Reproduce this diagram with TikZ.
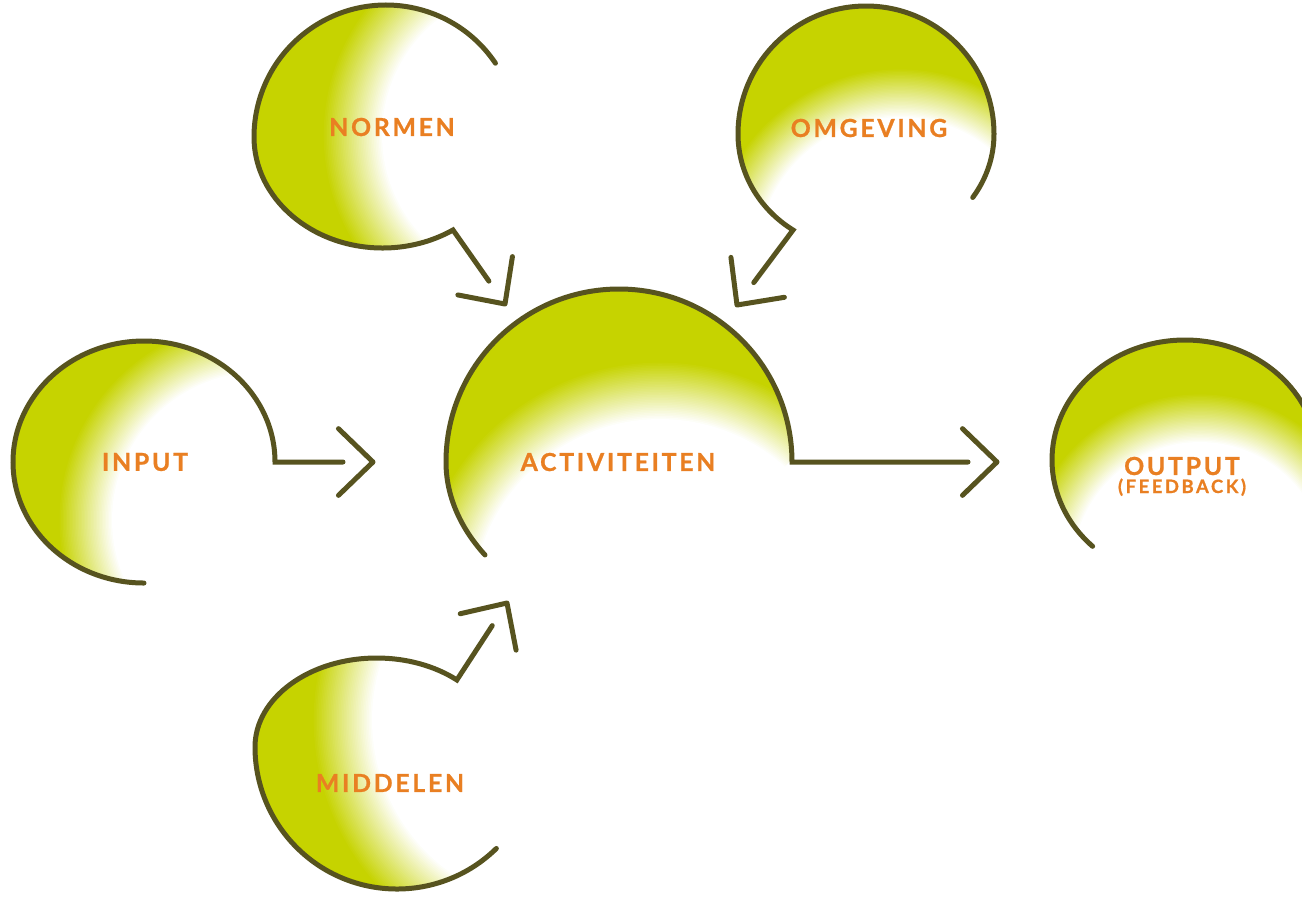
\documentclass[tikz,border=0pt]{standalone}
\usepackage{fontspec}
\usepackage{tikz}
\usetikzlibrary{calc}
\newfontfamily\labfont{Lato}[LetterSpace=11.0,BoldFeatures={FakeBold=0.8}]
\newfontfamily\sublabfont{Lato}[LetterSpace=14.0,BoldFeatures={FakeBold=0.8}]
\definecolor{dOlive}{HTML}{57531F}
\definecolor{lGreen}{HTML}{C6D300}
\definecolor{tOrange}{HTML}{E97F22}
% gradient fill: #1 centre, #2 radius of pure white, #3 radius where pure green starts
\newcommand\gradfill[3]{%
  \fill[lGreen] #1 circle (420);
  \foreach \i in {0,...,36}{%
    \pgfmathsetmacro\rr{#3-(#3-#2)*\i/36}%
    \pgfmathsetmacro\pp{100-100*\i/36}%
    \fill[lGreen!\pp!white] #1 circle (\rr);}%
}
\newcommand\mychevron[2]{\draw[chevline] ($(#1)!24pt!44:(#2)$) -- (#1) -- ($(#1)!24pt!-44:(#2)$);}
\begin{document}
\begin{tikzpicture}[x=0.5pt,y=-0.5pt,
  outline/.style={draw=dOlive,line width=2.5pt,line cap=round,line join=miter},
  chevline/.style={draw=dOlive,line width=2.5pt,line cap=round,line join=round},
  seam/.style={draw=white,line width=2pt},
  lbl/.style={text=tOrange,inner sep=0pt,font=\labfont\bfseries\fontsize{12.4}{14}\selectfont},
  sublbl/.style={text=tOrange,inner sep=0pt,font=\sublabfont\bfseries\fontsize{9.2}{11}\selectfont}]
\useasboundingbox (0,0) rectangle (1302,902);
\fill[white] (0,0) rectangle (1302,902);

% start points, junctions (ends of the outlines), chevron tips, gradient centres
\coordinate (sN) at ($(386,137)+(-34:132)$);
\coordinate (jN) at ($(382.7,137)+(56.9:128.7 and 111)$);   \coordinate (tN) at (505,304); \coordinate (wN) at (530,135);
\coordinate (sO) at ($(866,134)+(33.5:128 and 115)$);
\coordinate (jO) at ($(860.4,134)+(123.4:122.4 and 115)$);  \coordinate (tO) at (737,305); \coordinate (wO) at (900,260);
\coordinate (sA) at ($(708.8,462)+(148.4:262.8 and 177.4)$);
\coordinate (jA) at (792,462);                               \coordinate (tA) at (997,462); \coordinate (wA) at (660,607);
\coordinate (sI) at (144,583);
\coordinate (jI) at (275,462);                               \coordinate (tI) at (373,462); \coordinate (wI) at (260,520);
\coordinate (sU) at ($(1185,460)+(134:133 and 120)$);
\coordinate (eU) at ($(1185,460)+(350:133 and 120)$);        \coordinate (wU) at (1200,570);
\coordinate (sM) at ($(397,747)+(45.6:142)$);
\coordinate (jM) at ($(376.8,747)+(311.1:121.8 and 89)$);   \coordinate (tM) at (507,603); \coordinate (wM) at (560,720);

% ---------- NORMEN ----------
\begin{scope}
\clip (sN) arc[start angle=-34,end angle=-180,radius=132]
      arc[start angle=180,end angle=56.9,x radius=128.7,y radius=111] -- (wN) -- cycle;
\gradfill{(wN)}{148}{208}
\end{scope}
\draw[seam] (jN) -- (wN) -- (sN);
\draw[outline] (sN) arc[start angle=-34,end angle=-180,radius=132]
      arc[start angle=180,end angle=56.9,x radius=128.7,y radius=111] -- ($(tN)!14pt!(jN)$);
\mychevron{tN}{jN}

% ---------- OMGEVING ----------
\begin{scope}
\clip (sO) arc[start angle=33.5,end angle=0,x radius=128,y radius=115]
      arc[start angle=0,end angle=-180,radius=128]
      arc[start angle=180,end angle=123.4,x radius=122.4,y radius=115] -- (wO) -- cycle;
\gradfill{(wO)}{143}{192}
\end{scope}
\draw[seam] (jO) -- (wO) -- (sO);
\draw[outline] (sO) arc[start angle=33.5,end angle=0,x radius=128,y radius=115]
      arc[start angle=0,end angle=-180,radius=128]
      arc[start angle=180,end angle=123.4,x radius=122.4,y radius=115] -- ($(tO)!14pt!(jO)$);
\mychevron{tO}{jO}

% ---------- ACTIVITEITEN ----------
\begin{scope}
\clip (sA) arc[start angle=148.4,end angle=180,x radius=262.8,y radius=177.4]
      arc[start angle=180,end angle=360,radius=173] -- (wA) -- cycle;
\gradfill{(wA)}{188}{246}
\end{scope}
\draw[seam] (jA) -- (wA) -- (sA);
\draw[outline] (sA) arc[start angle=148.4,end angle=180,x radius=262.8,y radius=177.4]
      arc[start angle=180,end angle=360,radius=173] -- ($(tA)!14.5pt!(jA)$);
\mychevron{tA}{jA}

% ---------- INPUT ----------
\begin{scope}
\clip (sI) arc[start angle=90,end angle=360,x radius=131,y radius=121] -- (wI) -- cycle;
\gradfill{(wI)}{148}{202}
\end{scope}
\draw[seam] (jI) -- (wI) -- (sI);
\draw[outline] (sI) arc[start angle=90,end angle=360,x radius=131,y radius=121] -- ($(tI)!15pt!(jI)$);
\mychevron{tI}{jI}

% ---------- OUTPUT ----------
\begin{scope}
\clip (sU) arc[start angle=134,end angle=350,x radius=133,y radius=120]
      -- (1340,600) -- (wU) -- cycle;
\gradfill{(wU)}{128}{177}
\end{scope}
\draw[seam] (eU) -- (1340,600) -- (wU) -- (sU);
\draw[outline] (sU) arc[start angle=134,end angle=350,x radius=133,y radius=120];

% ---------- MIDDELEN ----------
\begin{scope}
\clip (sM) arc[start angle=45.6,end angle=180,radius=142]
      arc[start angle=180,end angle=311.1,x radius=121.8,y radius=89] -- (wM) -- cycle;
\gradfill{(wM)}{188}{248}
\end{scope}
\draw[seam] (jM) -- (wM) -- (sM);
\draw[outline] (sM) arc[start angle=45.6,end angle=180,radius=142]
      arc[start angle=180,end angle=311.1,x radius=121.8,y radius=89] -- ($(tM)!13.5pt!(jM)$);
\mychevron{tM}{jM}

% ---------- labels ----------
\node[lbl] (normen) at (392,127) {NORMEN};
\node[lbl] (omgeving) at (869,128) {OMGEVING};
\node[lbl] (activ) at (618,462) {ACTIVITEITEN};
\node[lbl] (input) at (145,462) {INPUT};
\node[lbl] (output) at (1182,466) {OUTPUT};
\node[sublbl,anchor=base] (feedback) at (1182,493) {(FEEDBACK)};
\node[lbl] (middelen) at (390,783) {MIDDELEN};
\end{tikzpicture}
\end{document}
